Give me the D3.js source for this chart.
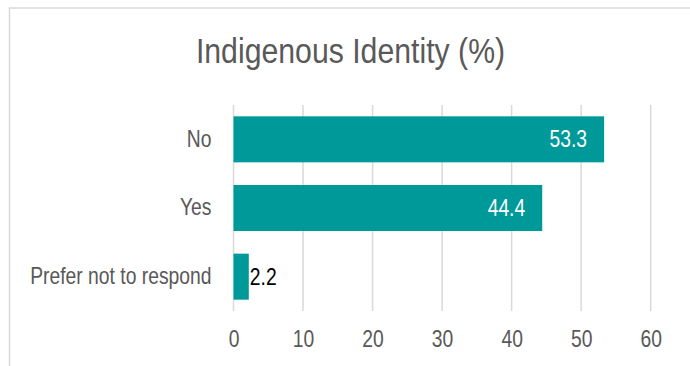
<!DOCTYPE html>
<html><head><meta charset="utf-8">
<script src="https://cdn.jsdelivr.net/npm/d3@7"></script>
<style>
html,body{margin:0;padding:0;background:#fff;}
svg{display:block;}
text{font-family:"Liberation Sans",Arial,sans-serif;}
</style></head>
<body>
<svg id="chart" width="690" height="366"></svg>
<script>
const title = "Indigenous Identity (%)";
const categories = ["No", "Yes", "Prefer not to respond"];
const values = [53.3, 44.4, 2.2];
const xTicks = [0, 10, 20, 30, 40, 50, 60];

const svg = d3.select("#chart");
const barColor = "#009999";
const textColor = "#595959";
const gridColor = "#d9d9d9";
const narrow = 0.84; // horizontal compression to imitate a narrow face
const fontFam = "'Liberation Sans', Arial, sans-serif";

// chart frame (extends past the picture right and bottom)
svg.append("rect").attr("x", 9.5).attr("y", 8).attr("width", 720).attr("height", 400)
  .attr("fill", "#fff").attr("stroke", gridColor).attr("stroke-width", 1.5);

const x = d3.scaleLinear().domain([0, 60]).range([233.5, 650.7]);
const y = d3.scaleBand().domain(categories).range([105, 311]).paddingInner(0.33).paddingOuter(0.165);

// gridlines
svg.append("g").selectAll("line").data(xTicks).join("line")
  .attr("x1", d => x(d)).attr("x2", d => x(d))
  .attr("y1", 105).attr("y2", 311)
  .attr("stroke", gridColor).attr("stroke-width", 1.5);

// x axis labels
const xAxis = d3.axisBottom(x).tickValues(xTicks).tickSize(0).tickPadding(0).tickFormat(d3.format("d"));
const gx = svg.append("g").attr("transform", "translate(0,330)").call(xAxis);
gx.select(".domain").remove();
gx.selectAll("text").attr("font-size", 23).attr("fill", textColor)
  .attr("font-family", fontFam).attr("dy", "0.72em")
  .attr("transform", `scale(${narrow},1)`);

// y axis labels
const yAxis = d3.axisLeft(y).tickSize(0).tickPadding(22 / narrow);
const gy = svg.append("g").attr("transform", `translate(${x(0)},0)`).call(yAxis);
gy.select(".domain").remove();
gy.selectAll("text").attr("font-size", 23).attr("fill", textColor)
  .attr("font-family", fontFam)
  .attr("transform", `scale(${narrow},1)`);

// bars
svg.append("g").selectAll("rect").data(values).join("rect")
  .attr("x", x(0))
  .attr("y", (d, i) => y(categories[i]))
  .attr("width", d => x(d) - x(0))
  .attr("height", y.bandwidth())
  .attr("fill", barColor);

// data labels
const inside = d => (x(d) - x(0) > 60);
svg.append("g").selectAll("text").data(values).join("text")
  .attr("transform", (d, i) => {
    const tx = inside(d) ? x(d) - 17 : x(d) + 1;
    const ty = y(categories[i]) + y.bandwidth() / 2;
    return `translate(${tx},${ty}) scale(${narrow},1)`;
  })
  .attr("dy", "0.35em")
  .attr("text-anchor", d => inside(d) ? "end" : "start")
  .attr("font-size", 23)
  .attr("fill", d => inside(d) ? "#ffffff" : "#000000")
  .text(d => d3.format(".1f")(d));

// title
svg.append("text").attr("transform", `translate(350.5,63) scale(${narrow},1)`)
  .attr("text-anchor", "middle")
  .attr("font-size", 36).attr("fill", textColor).text(title);
</script>
</body></html>
